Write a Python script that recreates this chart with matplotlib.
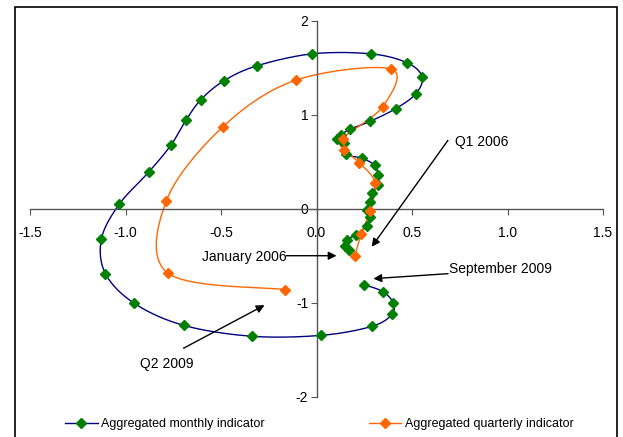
import numpy as np
import matplotlib
matplotlib.use("Agg")
import matplotlib.pyplot as plt
from matplotlib.patches import Rectangle

plt.rcParams['font.family'] = ['Liberation Sans', 'DejaVu Sans']

# monthly indicator, January 2006 .. September 2009
monthly_x = [0.168, 0.147, 0.158, 0.205, 0.263, 0.279, 0.263, 0.279, 0.289, 0.321,
             0.321, 0.305, 0.237, 0.153, 0.142, 0.105, 0.126, 0.174, 0.279, 0.416,
             0.521, 0.553, 0.474, 0.284, -0.021, -0.311, -0.484, -0.605, -0.684, -0.763,
             -0.879, -1.032, -1.126, -1.105, -0.953, -0.695, -0.337, 0.026, 0.289, 0.395,
             0.400, 0.347, 0.247]
monthly_y = [-0.434, -0.392, -0.328, -0.275, -0.180, -0.085, -0.010, 0.074, 0.169, 0.254,
             0.360, 0.466, 0.540, 0.582, 0.698, 0.741, 0.783, 0.847, 0.931, 1.069,
             1.228, 1.407, 1.556, 1.651, 1.651, 1.524, 1.365, 1.164, 0.942, 0.677,
             0.392, 0.053, -0.317, -0.688, -1.005, -1.238, -1.354, -1.344, -1.249, -1.122,
             -0.995, -0.878, -0.804]

# quarterly indicator, Q1 2006 .. Q2 2009
quarterly_x = [0.200, 0.233, 0.280, 0.307, 0.225, 0.146, 0.137, 0.347, 0.390, -0.109,
               -0.490, -0.786, -0.777, -0.167]
quarterly_y = [-0.500, -0.270, -0.020, 0.280, 0.490, 0.630, 0.750, 1.090, 1.490, 1.370,
               0.875, 0.088, -0.685, -0.857]

x_ticks = [-1.5, -1.0, -0.5, 0.0, 0.5, 1.0, 1.5]
y_ticks = [-2, -1, 0, 1, 2]


def smooth(xs, ys, n=20):
    # Catmull-Rom style smoothing like Excel's smoothed scatter lines
    p = np.column_stack([xs, ys])
    p = np.vstack([p[0], p, p[-1]])
    out = []
    for i in range(1, len(p) - 2):
        p0, p1, p2, p3 = p[i - 1], p[i], p[i + 1], p[i + 2]
        c1 = p1 + (p2 - p0) / 6
        c2 = p2 - (p3 - p1) / 6
        t = np.linspace(0, 1, n)[:, None]
        seg = (1 - t) ** 3 * p1 + 3 * (1 - t) ** 2 * t * c1 + 3 * (1 - t) * t ** 2 * c2 + t ** 3 * p2
        out.append(seg)
    out = np.vstack(out)
    return out[:, 0], out[:, 1]


fig = plt.figure(figsize=(6.23, 4.37), dpi=100)
ax = fig.add_axes([30 / 623, 40 / 437, 573 / 623, 376 / 437])

sx, sy = smooth(monthly_x, monthly_y)
ax.plot(sx, sy, color='#000080', lw=1.0, zorder=2)
ax.plot(monthly_x, monthly_y, ls='none', marker='D', ms=5.5, color='#008000', zorder=3)

qx, qy = smooth(quarterly_x, quarterly_y)
ax.plot(qx, qy, color='#FF6600', lw=1.0, zorder=2)
ax.plot(quarterly_x, quarterly_y, ls='none', marker='D', ms=5.5, color='#FF6600', zorder=3)

ax.set_xlim(-1.5, 1.5)
ax.set_ylim(-2, 2)
for s in ['top', 'right']:
    ax.spines[s].set_visible(False)
ax.spines['left'].set_position(('data', 0))
ax.spines['bottom'].set_position(('data', 0))
for s in ['left', 'bottom']:
    ax.spines[s].set_color('#555555')
    ax.spines[s].set_linewidth(1)
ax.set_xticks(x_ticks)
ax.set_xticklabels([f"{v:.1f}" for v in x_ticks])
ax.set_yticks(y_ticks)
ax.set_yticklabels([str(v) for v in y_ticks])
ax.tick_params(direction='out', length=4, color='#555555', labelsize=10, pad=2)
ax.tick_params(axis='x', pad=8)
ax.patch.set_visible(False)

arrow = dict(arrowstyle='-|>', color='black', lw=1, mutation_scale=12, shrinkA=0, shrinkB=0)
ax.annotate('', xy=(0.289, -0.402), xytext=(0.688, 0.730), arrowprops=arrow)
ax.text(0.725, 0.709, 'Q1 2006', fontsize=10, va='center', ha='left')
ax.annotate('', xy=(0.105, -0.497), xytext=(-0.158, -0.497), arrowprops=arrow)
ax.text(-0.158, -0.511, 'January 2006', fontsize=10, va='center', ha='right')
ax.annotate('', xy=(0.298, -0.741), xytext=(0.689, -0.688), arrowprops=arrow)
ax.text(0.693, -0.635, 'September 2009', fontsize=10, va='center', ha='left')
ax.annotate('', xy=(-0.272, -1.023), xytext=(-0.696, -1.481), arrowprops=arrow)
ax.text(-0.784, -1.648, 'Q2 2009', fontsize=10, va='center', ha='center')

# legend below the plot
h1, = ax.plot([], [], color='#000080', lw=1.0, marker='D', ms=5.5, mfc='#008000', mec='#008000')
h2, = ax.plot([], [], color='#FF6600', lw=1.0, marker='D', ms=5.5)
fig.legend([h1, h2], ['Aggregated monthly indicator', 'Aggregated quarterly indicator'],
           loc='center', bbox_to_anchor=(319.5 / 623, 1 - 424 / 437), ncol=2, frameon=False,
           fontsize=9, handlelength=2.6, columnspacing=8.3, handletextpad=0.3)

# chart border
fig.patches.append(Rectangle((15 / 623, -0.05), (617 - 15) / 623, 1.05 - 7 / 437,
                             transform=fig.transFigure, fill=False, edgecolor='black', lw=1.2))

fig.savefig('out.png', dpi=100)
